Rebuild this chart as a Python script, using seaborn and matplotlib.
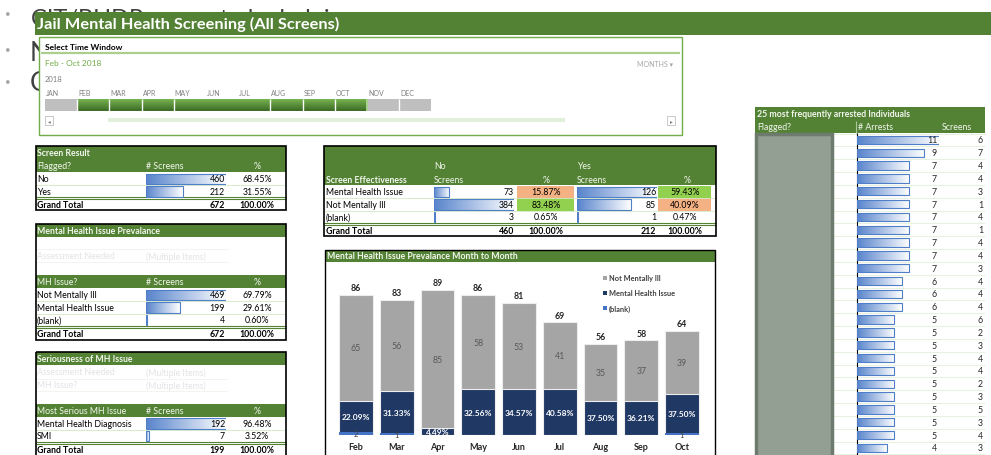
import numpy as np
import pandas as pd
import matplotlib
matplotlib.use("Agg")
import matplotlib.pyplot as plt
import seaborn as sns
from matplotlib.patches import Rectangle
from matplotlib.colors import LinearSegmentedColormap

# ---------------- data ----------------
months = ["Feb", "Mar", "Apr", "May", "Jun", "Jul", "Aug", "Sep", "Oct"]
not_mentally_ill = [65, 56, 85, 58, 53, 41, 35, 37, 39]
mental_health_issue = [19, 26, 4, 28, 28, 28, 21, 21, 24]
blank_mh = [2, 1, 0, 0, 0, 0, 0, 0, 1]

slicer_months = ["JAN", "FEB", "MAR", "APR", "MAY", "JUN", "JUL", "AUG", "SEP", "OCT", "NOV", "DEC"]
selected_months = ["FEB", "MAR", "APR", "MAY", "JUN", "JUL", "AUG", "SEP", "OCT"]

screen_result_labels = ["No", "Yes"]
screen_result_counts = [460, 212]

prevalence_labels = ["Not Mentally Ill", "Mental Health Issue", "(blank)"]
prevalence_counts = [469, 199, 4]

serious_labels = ["Mental Health Diagnosis", "SMI"]
serious_counts = [192, 7]

effect_labels = ["Mental Health Issue", "Not Mentally Ill", "(blank)"]
effect_no = [73, 384, 3]
effect_yes = [126, 85, 1]

top_arrests = [11, 9, 7, 7, 7, 7, 7, 7, 7, 7, 7, 6, 6, 6, 5, 5, 5, 5, 5, 5, 5, 5, 5, 5, 4]
top_screens = [6, 7, 4, 4, 3, 1, 4, 1, 4, 4, 3, 4, 4, 4, 6, 2, 3, 4, 4, 2, 3, 5, 3, 4, 3]

# ---------------- style ----------------
sns.set_style("white")
plt.rcParams["font.family"] = ["Lato", "DejaVu Sans"]

GREEN = "#548235"
HDR_TXT = "#F2F7EE"
LIGHT_LINE = "#D5E8C8"
GREY = "#A5A5A5"
NAVY = "#203864"
BLUE = "#4472C4"
FS = 6.3

W, H = 991, 456
fig = plt.figure(figsize=(W / 100, H / 100), dpi=100)
bg = fig.add_axes([0, 0, 1, 1])
bg.set_xlim(0, W)
bg.set_ylim(H, 0)
bg.axis("off")
bg.set_zorder(0)

fg = fig.add_axes([0, 0, 1, 1])
fg.set_xlim(0, W)
fg.set_ylim(H, 0)
fg.axis("off")
fg.set_zorder(20)
fg.patch.set_alpha(0)


def px_axes(x0, y0, x1, y1, z=5):
    ax = fig.add_axes([x0 / W, 1 - y1 / H, (x1 - x0) / W, (y1 - y0) / H])
    ax.set_facecolor("none")
    ax.set_zorder(z)
    return ax


def rect(x0, y0, x1, y1, fc="none", ec="none", lw=0.0, z=2, ax=None):
    (ax or bg).add_patch(Rectangle((x0, y0), x1 - x0, y1 - y0, facecolor=fc,
                                   edgecolor=ec, linewidth=lw, zorder=z))


def hline(y, x0, x1, color, lw=0.6, z=3):
    bg.plot([x0, x1], [y, y], color=color, lw=lw, zorder=z, solid_capstyle="butt")


def vline(x, y0, y1, color, lw=0.6, z=3):
    bg.plot([x, x], [y0, y1], color=color, lw=lw, zorder=z, solid_capstyle="butt")


def T(x, y, s, size=FS, color="#000000", weight="normal", ha="left", va="center",
      z=5, ax=None, **kw):
    (ax or fg).text(x, y, s, fontsize=size, color=color, fontweight=weight, ha=ha,
                    va=va, zorder=z, **kw)


bar_cmap = LinearSegmentedColormap.from_list("db", ["#5884CC", "#FFFFFF"])


def databar(x0, x1, yc_first, row_h, values, vmax, hfrac=0.85):
    n = len(values)
    ax = px_axes(x0, yc_first - row_h / 2, x1, yc_first - row_h / 2 + n * row_h)
    df = pd.DataFrame({"row": [f"r{i}" for i in range(n)], "val": values})
    sns.barplot(data=df, x="val", y="row", orient="h", ax=ax, color="#5884CC",
                saturation=1, width=hfrac, edgecolor="#4F7FC8", linewidth=0.8)
    grad = np.linspace(0, 1, 256).reshape(1, -1)
    for p in list(ax.patches):
        bx, by = p.get_xy()
        bw, bh = p.get_width(), p.get_height()
        if bw <= 0:
            continue
        im = ax.imshow(grad, cmap=bar_cmap, extent=[bx, bx + bw, by + bh, by],
                       aspect="auto", zorder=0.5, interpolation="bilinear")
        im.set_clip_path(p)
        p.set_facecolor("none")
    ax.set_xlim(0, vmax)
    ax.set_ylim(n - 0.5, -0.5)
    ax.axis("off")
    return ax


def pct(v, tot):
    return f"{v / tot * 100:.2f}%"


# ---------------- slide text behind ----------------
for yb in (15, 50, 82):
    T(8, yb, "\u2022", size=7, color="#A6A6A6", ha="center", z=1, ax=bg)
T(31, 26, "CIT/BHDP seems to be helping", size=17, color="#404040", va="baseline", z=1, ax=bg)
T(30, 61, "N", size=19, color="#404040", va="baseline", z=1, ax=bg)
T(30, 91, "C", size=19, color="#404040", va="baseline", z=1, ax=bg)

# ---------------- header ----------------
rect(35, 13, 991, 36, fc=GREEN, z=3)
T(37, 24.5, "Jail Mental Health Screening (All Screens)", size=11.8, color="white", weight="bold")

# ---------------- slicer ----------------
rect(39, 38, 682, 136, fc="white", ec="#70AD47", lw=1.0, z=3)
T(45, 48, "Select Time Window", size=6, weight="bold")
hline(53.5, 41, 680, "#A9D08E", lw=1.6, z=4)
T(45, 64, "Feb - Oct 2018", size=6, color="#70AD47")
T(673, 64.5, "MONTHS \u25be", size=5, color="#A6A6A6", ha="right")
T(45, 80, "2018", size=5.5, color="#808080")
green_cmap = LinearSegmentedColormap.from_list("gv", ["#78B350", "#3B6A25"])
mw = 32.2
for i, m in enumerate(slicer_months):
    mx = 45 + mw * i
    T(mx + 1, 93, m, size=5, color="#808080")
    if m in selected_months:
        bg.imshow(np.linspace(0, 1, 64).reshape(-1, 1), cmap=green_cmap,
                  extent=[mx, mx + mw, 112, 100], aspect="auto", zorder=4,
                  interpolation="bilinear")
    else:
        rect(mx, 100, mx + mw, 112, fc="#BFBFBF", z=4)
no_sep = {("MAY", "JUN"), ("JUN", "JUL")}
for i in range(1, len(slicer_months)):
    pair = (slicer_months[i - 1], slicer_months[i])
    if pair in no_sep:
        continue
    xs = 45 + mw * i
    col = "#A9D08E" if pair == ("OCT", "NOV") else "white"
    vline(xs, 100, 112, col, lw=1.4 if col != "white" else 1.0, z=5)
rect(108, 119, 565, 123, fc="#E2EFDA", z=4)
rect(45, 117, 53, 126, fc="white", ec="#BFBFBF", lw=0.6, z=4)
rect(667, 117, 675, 126, fc="white", ec="#BFBFBF", lw=0.6, z=4)
T(49, 121.5, "\u25c2", size=4, color="#7F7F7F", ha="center")
T(671, 121.5, "\u25b8", size=4, color="#7F7F7F", ha="center")

# ---------------- table 1: Screen Result ----------------
rect(36, 147, 286, 173, fc=GREEN, z=2)
T(37, 154, "Screen Result", color=HDR_TXT, weight="bold")
T(37, 167, "Flagged?", color=HDR_TXT)
T(146, 167, "# Screens", color=HDR_TXT)
T(257, 167, "%", color=HDR_TXT, ha="center")
tot1 = sum(screen_result_counts)
ys1 = [180, 192.5]
for lab, v, y in zip(screen_result_labels, screen_result_counts, ys1):
    T(37, y, lab)
    T(225, y, f"{v}", ha="right")
    T(257, y, pct(v, tot1), ha="center")
hline(186.3, 36, 286, LIGHT_LINE)
hline(198, 36, 286, GREEN, lw=0.8)
hline(200, 36, 286, GREEN, lw=0.8)
T(37, 205.5, "Grand Total", weight="bold")
T(225, 205.5, f"{tot1}", weight="bold", ha="right")
T(257, 205.5, "100.00%", weight="bold", ha="center")
rect(36, 147, 286, 211, ec="black", lw=1.2, z=4)
databar(146, 226, ys1[0], 12.5, screen_result_counts, max(screen_result_counts))

# ---------------- table 2: Mental Health Issue Prevalance ----------------
rect(36, 225, 286, 238, fc=GREEN, z=2)
T(37, 231.5, "Mental Health Issue Prevalance", color=HDR_TXT, weight="bold")
T(37, 257, "Assessment Needed", color="#E3E3E3")
T(146, 257, "(Multiple Items)", color="#E3E3E3")
hline(250, 36, 228, "#EEF5EA")
hline(263, 36, 228, "#EEF5EA")
rect(36, 276, 286, 289, fc=GREEN, z=2)
T(37, 283, "MH Issue?", color=HDR_TXT)
T(146, 283, "# Screens", color=HDR_TXT)
T(257, 283, "%", color=HDR_TXT, ha="center")
tot2 = sum(prevalence_counts)
ys2 = [296, 308.5, 321]
for lab, v, y in zip(prevalence_labels, prevalence_counts, ys2):
    T(37, y, lab)
    T(225, y, f"{v}", ha="right")
    T(257, y, pct(v, tot2), ha="center")
hline(302.3, 36, 286, LIGHT_LINE)
hline(314.8, 36, 286, LIGHT_LINE)
hline(327, 36, 286, GREEN, lw=0.8)
hline(329, 36, 286, GREEN, lw=0.8)
T(37, 334.5, "Grand Total", weight="bold")
T(225, 334.5, f"{tot2}", weight="bold", ha="right")
T(257, 334.5, "100.00%", weight="bold", ha="center")
rect(36, 225, 286, 341, ec="black", lw=1.2, z=4)
databar(146, 226, ys2[0], 12.5, prevalence_counts, max(prevalence_counts))

# ---------------- table 3: Seriousness ----------------
rect(36, 353, 286, 366, fc=GREEN, z=2)
T(37, 359.5, "Seriousness of MH Issue", color=HDR_TXT, weight="bold")
T(37, 373, "Assessment Needed", color="#E3E3E3")
T(146, 373, "(Multiple Items)", color="#E3E3E3")
T(37, 386, "MH Issue?", color="#E3E3E3")
T(146, 386, "(Multiple Items)", color="#E3E3E3")
hline(379.5, 36, 228, "#EEF5EA")
hline(392.5, 36, 228, "#EEF5EA")
rect(36, 405, 286, 418, fc=GREEN, z=2)
T(37, 411.5, "Most Serious MH Issue", color=HDR_TXT)
T(146, 411.5, "# Screens", color=HDR_TXT)
T(257, 411.5, "%", color=HDR_TXT, ha="center")
tot3 = sum(serious_counts)
ys3 = [424.5, 437]
for lab, v, y in zip(serious_labels, serious_counts, ys3):
    T(37, y, lab)
    T(225, y, f"{v}", ha="right")
    T(257, y, pct(v, tot3), ha="center")
hline(430.8, 36, 286, LIGHT_LINE)
hline(443, 36, 286, GREEN, lw=0.8)
hline(445, 36, 286, GREEN, lw=0.8)
T(37, 450.5, "Grand Total", weight="bold")
T(225, 450.5, f"{tot3}", weight="bold", ha="right")
T(257, 450.5, "100.00%", weight="bold", ha="center")
rect(36, 353, 286, 470, ec="black", lw=1.2, z=4)
databar(146, 226, ys3[0], 12.5, serious_counts, max(serious_counts))

# ---------------- middle table: Screen Effectiveness ----------------
rect(324, 147, 716, 186, fc=GREEN, z=2)
T(434, 167, "No", color=HDR_TXT)
T(577, 167, "Yes", color=HDR_TXT)
T(326, 181, "Screen Effectiveness", color=HDR_TXT, weight="bold")
T(434, 181, "Screens", color=HDR_TXT)
T(546, 181, "%", color=HDR_TXT, ha="center")
T(577, 181, "Screens", color=HDR_TXT)
T(687, 181, "%", color=HDR_TXT, ha="center")
tot_no, tot_yes = sum(effect_no), sum(effect_yes)
ysm = [193, 205.5, 218]
ORANGE, LGREEN = "#F4B183", "#92D050"
cell_fill = [(ORANGE, LGREEN), (LGREEN, ORANGE), (None, None)]
for (lab, vn, vy, y, (fn, fy)) in zip(effect_labels, effect_no, effect_yes, ysm, cell_fill):
    if fn:
        rect(517, y - 6.3, 574, y + 6.3, fc=fn, z=2)
    if fy:
        rect(658, y - 6.3, 711, y + 6.3, fc=fy, z=2)
    T(326, y, lab)
    T(514, y, f"{vn}", ha="right")
    T(546, y, pct(vn, tot_no), ha="center")
    T(656, y, f"{vy}", ha="right")
    T(685, y, pct(vy, tot_yes), ha="center")
hline(199.2, 324, 716, LIGHT_LINE)
hline(211.7, 324, 716, LIGHT_LINE)
hline(224, 324, 716, GREEN, lw=0.8)
hline(226, 324, 716, GREEN, lw=0.8)
T(326, 231.5, "Grand Total", weight="bold")
T(514, 231.5, f"{tot_no}", weight="bold", ha="right")
T(546, 231.5, "100.00%", weight="bold", ha="center")
T(656, 231.5, f"{tot_yes}", weight="bold", ha="right")
T(685, 231.5, "100.00%", weight="bold", ha="center")
rect(324, 147, 716, 237, ec="black", lw=1.2, z=4)
databar(434, 514, ysm[0], 12.5, effect_no, max(effect_no))
databar(577, 657, ysm[0], 12.5, effect_yes, max(effect_yes))

# ---------------- right table: 25 most frequently arrested ----------------
rect(755, 108, 985, 134, fc=GREEN, z=2)
T(757, 115, "25 most frequently arrested Individuals", color=HDR_TXT, weight="bold")
T(757, 128, "Flagged?", color=HDR_TXT)
T(858, 128, "# Arrests", color=HDR_TXT)
T(942, 128, "Screens", color=HDR_TXT)
vline(856, 122, 134, "#A9C99A", lw=0.8)
row_h = 12.83
y_first = 141
for i in range(len(top_arrests) + 1):
    hline(y_first - row_h / 2 + i * row_h, 833, 985, "#E2EFDA", lw=0.6)
for i, (a, s) in enumerate(zip(top_arrests, top_screens)):
    y = y_first + i * row_h
    T(937, y, f"{a}", ha="right", color="#262626")
    T(983, y, f"{s}", ha="right", color="#262626")
rect(756, 135, 832, 470, fc="#939F93", ec="#6E7A6E", lw=2.5, z=3)
vline(857, 134, 456, "black", lw=0.8, z=4)
databar(857, 939, y_first, row_h, top_arrests, max(top_arrests), hfrac=0.65)

# ---------------- bar chart ----------------
rect(325, 251, 715, 263, fc=GREEN, z=2)
T(327, 257, "Mental Health Issue Prevalance Month to Month", size=6.3, color=HDR_TXT, weight="bold")
rect(325, 251, 715, 470, ec="black", lw=1.0, z=4)

chart = pd.DataFrame({"month": months, "nmi": not_mentally_ill,
                      "mhi": mental_health_issue, "blank": blank_mh})
chart["total"] = chart["nmi"] + chart["mhi"] + chart["blank"]
chart["mhi_blank"] = chart["mhi"] + chart["blank"]

axc = px_axes(335.6, 270, 702.4, 436)
sns.barplot(data=chart, x="month", y="total", order=months, color=GREY, saturation=1,
            width=0.83, edgecolor="#EDEDED", linewidth=0.8, ax=axc)
sns.barplot(data=chart, x="month", y="mhi_blank", order=months, color=NAVY, saturation=1,
            width=0.83, edgecolor="#EDEDED", linewidth=0.8, ax=axc)
sns.barplot(data=chart, x="month", y="blank", order=months, color=BLUE, saturation=1,
            width=0.83, linewidth=0, ax=axc)
axc.set_xlim(-0.5, len(months) - 0.5)
axc.set_ylim(0, 101.8)
axc.axhline(0, color="#D0D0D0", lw=0.8, zorder=0.5)
for sp in axc.spines.values():
    sp.set_visible(False)
axc.set_yticks([])
axc.set_xlabel("")
axc.set_ylabel("")
axc.tick_params(axis="x", length=0, pad=5)
for lbl in axc.get_xticklabels():
    lbl.set_fontweight("bold")
    lbl.set_fontsize(6.5)
    lbl.set_color("#262626")
for i, r in chart.iterrows():
    axc.text(i, r["total"] + 4.3, f"{r['total']}", ha="center", va="center",
             fontsize=6.3, fontweight="bold", color="#262626")
    axc.text(i, (r["mhi_blank"] + r["total"]) / 2, f"{r['nmi']}", ha="center", va="center",
             fontsize=6.3, color="#595959")
    axc.text(i, r["blank"] + r["mhi"] / 2, pct(r["mhi"], r["total"]), ha="center", va="center",
             fontsize=6, fontweight="bold", color="white")
    if r["blank"] > 0:
        axc.text(i, r["blank"] / 2, f"{r['blank']}", ha="center", va="center",
                 fontsize=5.5, color="#404040")

# legend
for yy, lab, col in [(279, "Not Mentally Ill", GREY), (294, "Mental Health Issue", NAVY), (309, "(blank)", BLUE)]:
    rect(603, yy - 2.2, 607.4, yy + 2.2, fc=col, z=5, ax=fg)
    T(609, yy, lab, size=5.3, weight="bold", color="#404040", z=6)

for a in (bg, fg):
    a.set_xlim(0, W)
    a.set_ylim(H, 0)
fig.savefig("out.png", dpi=100)
